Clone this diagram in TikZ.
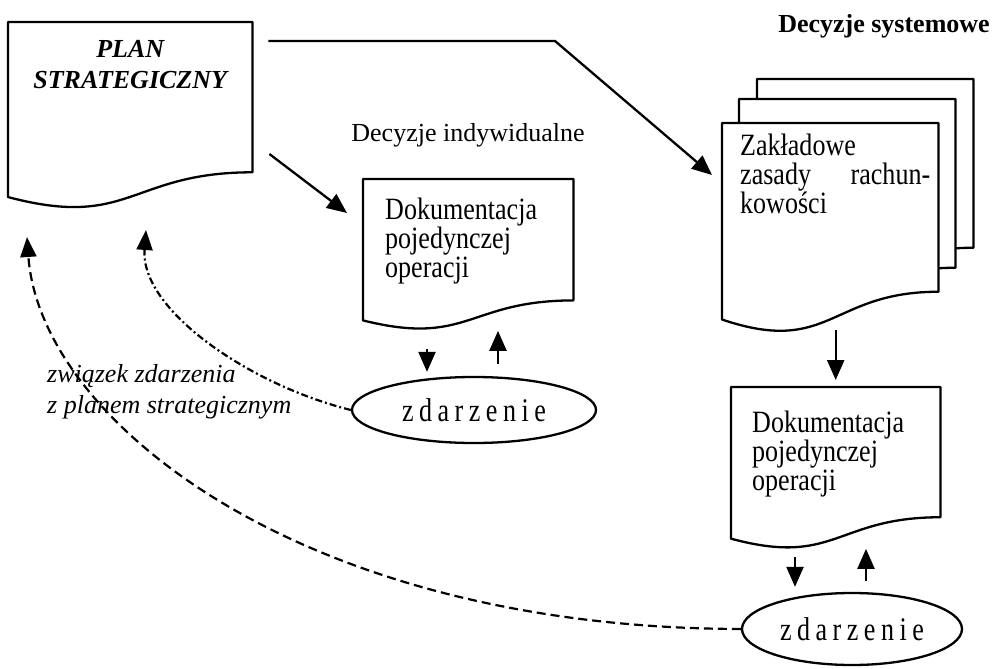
\documentclass[tikz,border=0pt]{standalone}
\usepackage{fontspec}
\setmainfont{Liberation Serif}
\newfontfamily\boxfont[FakeStretch=0.84]{Liberation Serif}
\newfontfamily\eventfont[FakeStretch=0.79]{Liberation Serif}
\usetikzlibrary{positioning,calc,shapes.geometric,arrows.meta}

% outline of a document shape drawn over an (empty) named node
\newcommand{\docoutline}[2][]{%
  \draw[docline,#1] (#2.north west) -- (#2.north east)
    -- ($(#2.north east)!0.802!(#2.south east)$)
    .. controls ($(#2.north)!0.802!(#2.south)$) and ($(#2.north)!1.108!(#2.south)$)
    .. ($(#2.north west)!0.934!(#2.south west)$) -- cycle;}

\begin{document}
\begin{tikzpicture}[x=1pt,y=-1pt,
    docbox/.style={rectangle,inner sep=0pt,anchor=north west},
    docline/.style={line width=2.3pt,line join=round},
    boxtext/.style={font=\boxfont\fontsize{31}{29}\selectfont,align=left,inner sep=0pt},
    event/.style={ellipse,draw,line width=2.3pt,inner sep=0pt,font=\eventfont\fontsize{33}{33}\selectfont},
    flow/.style={line width=2.3pt,-{Triangle[length=20pt,width=17pt]}},
    link/.style={line width=2.2pt,-{Triangle[length=20pt,width=16pt]}}]
    \useasboundingbox (0,0) rectangle (997,669);

    \node[docbox,minimum width=244,minimum height=187] (plan) at (8,22) {};
    \docoutline{plan}
    \node[font=\bfseries\itshape\fontsize{26}{31}\selectfont,align=center,inner sep=0pt,
        below=18pt of plan.north] (plantitle) {PLAN\\STRATEGICZNY};

    \node[docbox,minimum width=210,minimum height=151] (dokA) at (363,179) {};
    \docoutline{dokA}
    \node[boxtext,below right=19pt and 22pt of dokA.north west] (dokAtext)
        {Dokumentacja\\pojedynczej\\operacji};

    % pages behind the front document
    \foreach \dx/\dy [count=\i] in {35/44,17/24}{
        \node[docbox,minimum width=216,minimum height=210] (page\i) at (722+\dx,123-\dy) {};
        \docoutline[fill=white]{page\i}
    }
    \node[docbox,minimum width=216,minimum height=210] (zasady) at (722,123) {};
    \docoutline[fill=white]{zasady}
    \node[boxtext,text width=190pt,below right=11pt and 18pt of zasady.north west] (zasadytext)
        {Zak\l{}adowe\\zasady\hfill rachun-\\kowo\'sci};

    \node[docbox,minimum width=209,minimum height=162] (dokB) at (731,387) {};
    \docoutline{dokB}
    \node[boxtext,below right=24pt and 21pt of dokB.north west] (dokBtext)
        {Dokumentacja\\pojedynczej\\operacji};

    \node[event,minimum width=244,minimum height=66] (zd1) at (474,410) {z\,d\,a\,r\,z\,e\,n\,i\,e};
    \node[event,minimum width=220,minimum height=72] (zd2) at (852,629) {z\,d\,a\,r\,z\,e\,n\,i\,e};

    \node[font=\fontsize{26}{30}\selectfont,anchor=base] (indyw) at (468,141) {Decyzje indywidualne};
    \node[font=\bfseries\fontsize{26}{30}\selectfont,anchor=base] (system) at (884,33) {Decyzje systemowe};
    \node[font=\itshape\fontsize{26}{31}\selectfont,align=left,anchor=west,inner sep=0pt] (zwiazek)
        at (47,392) {zwi\k{a}zek zdarzenia\\z planem strategicznym};

    \coordinate (bend) at (555,41);
    \coordinate (planA) at (146,230);
    \coordinate (planB) at (27,237);

    \draw[flow] ([shift={(16,19)}]plan.north east) -- (bend) -- ([shift={(-10,52)}]zasady.north west);
    \draw[flow] ([shift={(17,132)}]plan.north east) -- ([shift={(-16,34)}]dokA.north west);
    \draw[flow] ([shift={(0,-57)}]dokB.north) -- ([shift={(0,-7)}]dokB.north);

    \draw[flow] ([shift={(-47,-27)}]zd1.north) -- ([shift={(-47,-4)}]zd1.north);
    \draw[flow] ([shift={(24,-12)}]zd1.north) -- ([shift={(24,-45)}]zd1.north);
    \draw[flow] ([shift={(-57,-35)}]zd2.north) -- ([shift={(-57,-5)}]zd2.north);
    \draw[flow] ([shift={(14,-11)}]zd2.north) -- ([shift={(14,-43)}]zd2.north);

    \draw[link,dash pattern=on 7pt off 3pt on 2pt off 3pt]
        (zd1.west) .. controls (250,385) and (140,310) .. (planA);
    \draw[link,dash pattern=on 9pt off 5pt]
        (zd2.west) .. controls (300,628) and (40,420) .. (planB);
\end{tikzpicture}
\end{document}
